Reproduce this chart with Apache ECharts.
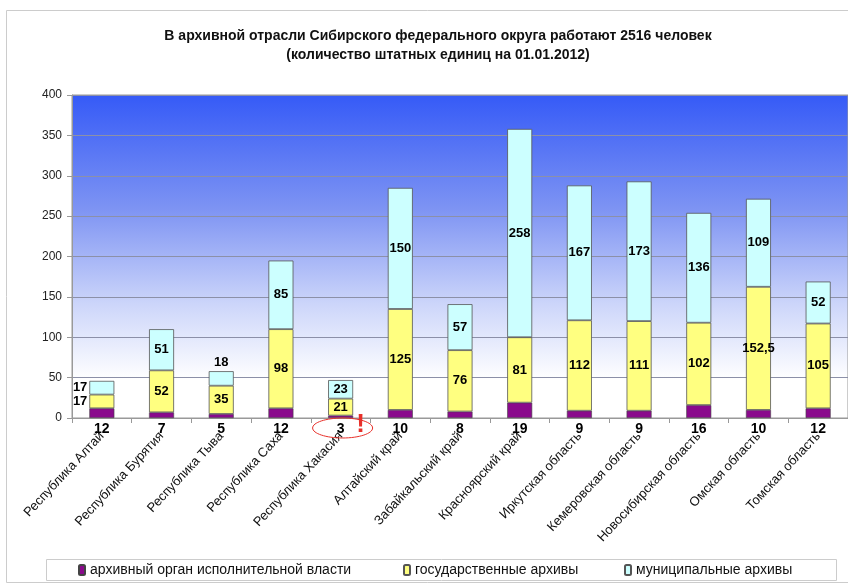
<!DOCTYPE html>
<html><head><meta charset="utf-8">
<script src="https://cdn.jsdelivr.net/npm/echarts@6/dist/echarts.min.js"></script>
<style>html,body{margin:0;padding:0;background:#fff}#c{width:848px;height:586px}</style>
</head><body><div id="c"></div>
<script>
const categories = ['Республика Алтай','Республика Бурятия','Республика Тыва','Республика Саха','Республика Хакасия','Алтайский край','Забайкальский край','Красноярский край','Иркутская область','Кемеровская область','Новосибирская область','Омская область','Томская область'];
const executive = [12,7,5,12,3,10,8,19,9,9,16,10,12];
const stateArch = [17,52,35,98,21,125,76,81,112,111,102,152.5,105];
const municipal = [17,51,18,85,23,150,57,258,167,173,136,109,52];
const seriesNames = ['архивный орган исполнительной власти','государственные архивы','муниципальные архивы'];
const yTicks = [0,50,100,150,200,250,300,350,400];

const FONT = '"Liberation Sans", Arial, sans-serif';
const fmt = p => String(p.value).replace('.', ',');
const inLabel = {show:true, position:'inside', color:'#000', fontFamily:FONT, fontSize:13, fontWeight:'bold', formatter:fmt};

function build(values, overrides){
  return values.map((v,i)=> overrides[i] ? {value:v, label:overrides[i]} : v);
}
const legText = {fontFamily:FONT, fontSize:14, color:'#111'};
const chart = echarts.init(document.getElementById('c'));
const option = {
  animation:false,
  backgroundColor:'#fff',
  textStyle:{fontFamily:FONT},
  title:{
    text:'В архивной отрасли Сибирского федерального округа работают 2516 человек\n(количество штатных единиц на 01.01.2012)',
    left:433, top:22, textAlign:'center',
    textStyle:{fontFamily:FONT, fontSize:14, fontWeight:'bold', color:'#111', lineHeight:19}
  },
  legend:[
    {data:[seriesNames[0]], left:78, top:563, itemWidth:6, itemHeight:10, itemGap:5, textStyle:legText, padding:0},
    {data:[seriesNames[1]], left:403, top:563, itemWidth:6, itemHeight:10, textStyle:legText, padding:0},
    {data:[seriesNames[2]], left:624, top:563, itemWidth:6, itemHeight:10, textStyle:legText, padding:0}
  ],
  grid:{left:72, top:95, width:782, height:323, show:true, borderColor:'#999', borderWidth:1,
    backgroundColor:new echarts.graphic.LinearGradient(0,0,0,1,[
      {offset:0,color:'#355af7'},{offset:0.35,color:'#7d93f3'},{offset:0.65,color:'#cdd6fa'},{offset:0.88,color:'#ffffff'},{offset:1,color:'#ffffff'}])},
  xAxis:{type:'category', data:categories,
    axisLine:{lineStyle:{color:'#999'}},
    axisTick:{show:true, length:5, lineStyle:{color:'#999'}},
    axisLabel:{rotate:47, margin:16, fontFamily:FONT, fontSize:13, color:'#111', interval:0}},
  yAxis:{type:'value', min:yTicks[0], max:yTicks[yTicks.length-1], interval:50,
    axisLine:{show:true, lineStyle:{color:'#999'}},
    axisTick:{show:true, length:5, lineStyle:{color:'#999'}},
    splitLine:{lineStyle:{color:'#8c90a8'}},
    axisLabel:{fontFamily:FONT, fontSize:12, color:'#222', margin:10}},
  series:[
    {name:seriesNames[0], type:'bar', stack:'a', barWidth:25, data:executive,
     itemStyle:{color:'#8a0a8c', borderColor:'#444', borderWidth:0.6},
     label:{show:true, position:'bottom', distance:4, color:'#000', fontFamily:FONT, fontSize:14, fontWeight:'bold', formatter:fmt}},
    {name:seriesNames[1], type:'bar', stack:'a', barWidth:25,
     data:build(stateArch,{0:{position:'left', distance:2}}),
     itemStyle:{color:'#ffff80', borderColor:'#555', borderWidth:0.8}, label:inLabel},
    {name:seriesNames[2], type:'bar', stack:'a', barWidth:25,
     data:build(municipal,{0:{position:'left', distance:2},2:{position:'top', distance:2}}),
     itemStyle:{color:'#ccffff', borderColor:'#555', borderWidth:0.8}, label:inLabel}
  ]
};
chart.setOption(option);
const p = chart.convertToPixel({gridIndex:0},[4,0]);
chart.setOption({graphic:[
  {type:'rect', shape:{x:6.5,y:10.5,width:900,height:572}, style:{fill:null, stroke:'#ccc', lineWidth:1}, silent:true, z:-1},
  {type:'rect', shape:{x:46.5,y:559.5,width:790,height:21}, style:{fill:null, stroke:'#ccc', lineWidth:1}, silent:true},
  {type:'ellipse', shape:{cx:p[0]+2, cy:p[1]+10, rx:30, ry:10}, style:{fill:null, stroke:'#e8302a', lineWidth:1}, silent:true, z:100},
  {type:'text', x:p[0]+20, y:p[1]-6, style:{text:'!', fill:'#e8302a', font:'bold 26px '+FONT, textAlign:'center'}, silent:true, z:100}
]});
</script></body></html>
